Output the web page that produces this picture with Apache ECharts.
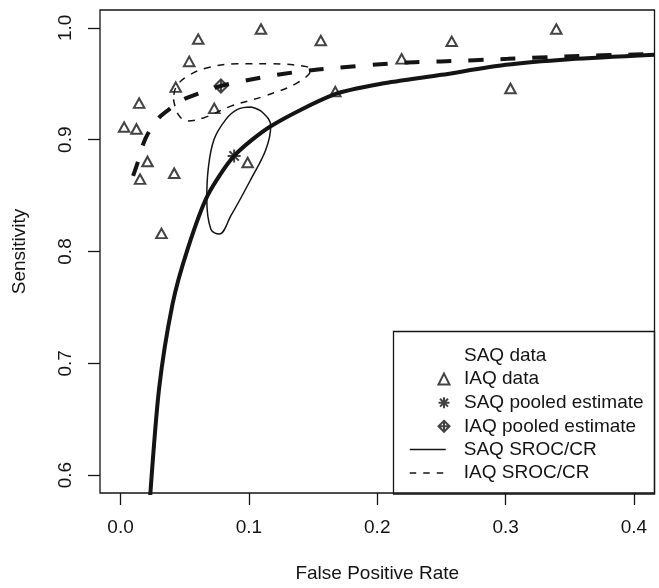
<!DOCTYPE html>
<html>
<head>
<meta charset="utf-8">
<title>SROC curves</title>
<script src="https://cdn.jsdelivr.net/npm/echarts@6/dist/echarts.min.js"></script>
<style>
  html, body { margin: 0; padding: 0; background: #fff; }
  #chart { width: 659px; height: 588px; }
</style>
</head>
<body>
<div id="chart"></div>
<script>
// IAQ study data (false positive rate, sensitivity)
const iaqFpr = [0.0605, 0.1094, 0.156, 0.0535, 0.219, 0.258, 0.3395, 0.043, 0.0145, 0.073,
  0.1673, 0.3038, 0.0028, 0.0124, 0.021, 0.0152, 0.0418, 0.099, 0.0319]
const iaqSens = [0.990, 0.999, 0.9887, 0.970, 0.9723, 0.988, 0.999, 0.947, 0.9327, 0.928,
  0.943, 0.9458, 0.9113, 0.9096, 0.8805, 0.8647, 0.870, 0.8796, 0.8162]

// pooled estimates
const saqPooled = [0.0885, 0.8855]
const iaqPooled = [0.0782, 0.948]

// SROC curves
const saqSrocFpr = [0.0227, 0.030, 0.0405, 0.0522, 0.0678, 0.0885, 0.117, 0.1665, 0.203, 0.25, 0.3, 0.35, 0.416]
const saqSrocSens = [0.575, 0.677, 0.753, 0.802, 0.85, 0.8855, 0.912, 0.9405, 0.950, 0.958, 0.967, 0.972, 0.976]
const iaqSrocFpr = [0.0098, 0.0132, 0.0171, 0.0215, 0.030, 0.0386, 0.049, 0.060, 0.078, 0.1016,
  0.1275, 0.1536, 0.2186, 0.2497, 0.3018, 0.351, 0.4006, 0.416]
const iaqSrocSens = [0.8676, 0.879, 0.8944, 0.9057, 0.9197, 0.9277, 0.936, 0.941, 0.948, 0.9539,
  0.959, 0.9628, 0.9688, 0.970, 0.9723, 0.9747, 0.9762, 0.9766]

// confidence regions
const saqCrFpr = [0.1016, 0.1105, 0.117, 0.1133, 0.1016, 0.086, 0.0768, 0.0704, 0.0672, 0.0683, 0.0729, 0.0821, 0.0912, 0.1016]
const saqCrSens = [0.9292, 0.9245, 0.9122, 0.8914, 0.8647, 0.832, 0.8156, 0.820, 0.8468, 0.8736, 0.9003, 0.9182, 0.9271, 0.9292]
const iaqCrFpr = [0.0413, 0.0449, 0.0522, 0.0651, 0.086, 0.112, 0.138, 0.1484, 0.1431, 0.117, 0.091, 0.0678, 0.0522, 0.043, 0.0413]
const iaqCrSens = [0.936, 0.9227, 0.9167, 0.9197, 0.930, 0.939, 0.951, 0.9628, 0.9657, 0.9679, 0.9679, 0.9643, 0.9568, 0.9465, 0.936]

const xTicks = [0, 0.1, 0.2, 0.3, 0.4]
const yTicks = [0.6, 0.7, 0.8, 0.9, 1.0]

const pairs = (xs, ys) => xs.map((x, i) => [x, ys[i]])

const ink = '#141414'
const font = 'Liberation Sans, Arial, Helvetica, sans-serif'
const asterisk = 'path://M0,-1L0,1M-1,0L1,0M-0.72,-0.72L0.72,0.72M-0.72,0.72L0.72,-0.72'
const diamondPlus = 'path://M0,-1L1,0L0,1L-1,0ZM0,-1L0,1M-1,0L1,0'
const noDot = { color: 'rgba(0,0,0,0)', borderWidth: 0 }
const openMark = { color: 'rgba(0,0,0,0)', borderColor: ink, borderWidth: 2 }

const chart = echarts.init(document.getElementById('chart'))
chart.setOption({
  animation: false,
  textStyle: { fontFamily: font, color: ink },
  grid: {
    left: 100, top: 10, width: 554.5, height: 484,
    show: true, borderColor: ink, borderWidth: 1.3, backgroundColor: 'transparent'
  },
  xAxis: {
    type: 'value', min: -0.016, max: 0.416,
    name: 'False Positive Rate', nameLocation: 'middle', nameGap: 71,
    nameTextStyle: { fontSize: 19, color: ink, fontFamily: font },
    axisLine: { show: false, onZero: false },
    axisTick: { show: true, customValues: xTicks, length: 12, lineStyle: { color: ink, width: 1.3 } },
    axisLabel: { customValues: xTicks, formatter: v => v.toFixed(1), fontSize: 19, margin: 25, color: ink },
    splitLine: { show: false }
  },
  yAxis: {
    type: 'value', min: 0.584, max: 1.016,
    name: 'Sensitivity', nameLocation: 'middle', nameGap: 71,
    nameTextStyle: { fontSize: 19, color: ink, fontFamily: font },
    axisLine: { show: false, onZero: false },
    axisTick: { show: true, customValues: yTicks, length: 12, lineStyle: { color: ink, width: 1.3 } },
    axisLabel: { customValues: yTicks, formatter: v => v.toFixed(1), rotate: 90, fontSize: 19, margin: 25, color: ink },
    splitLine: { show: false }
  },
  legend: [
    {
      data: ['SAQ data', 'IAQ data', 'SAQ pooled estimate', 'IAQ pooled estimate'],
      orient: 'vertical', left: 437.5, top: 346, padding: 0,
      itemWidth: 11, itemHeight: 11, itemGap: 4.6, selectedMode: false,
      textStyle: { fontSize: 19, color: ink, fontFamily: font, padding: [0, 0, 0, 9.5] }
    },
    {
      data: [
        { name: 'SAQ SROC/CR', lineStyle: { width: 1.5, type: 'solid' }, itemStyle: noDot },
        { name: 'IAQ SROC/CR', lineStyle: { width: 1.5, type: [6.5, 7] }, itemStyle: noDot }
      ],
      orient: 'vertical', left: 409, top: 440, padding: 0,
      itemWidth: 36, itemHeight: 11, itemGap: 4.6, selectedMode: false,
      textStyle: { fontSize: 19, color: ink, fontFamily: font, padding: [0, 0, 0, 13] }
    }
  ],
  graphic: [{
    type: 'rect', z: 0,
    shape: { x: 393.5, y: 331.5, width: 261, height: 162.5 },
    style: { fill: 'none', stroke: ink, lineWidth: 1.3 }
  }],
  series: [
    {
      name: 'SAQ SROC/CR', type: 'line', data: pairs(saqSrocFpr, saqSrocSens),
      symbol: 'none', smooth: 0.25, lineStyle: { color: ink, width: 4 }, itemStyle: { color: ink }
    },
    {
      name: 'IAQ SROC/CR', type: 'line', data: pairs(iaqSrocFpr, iaqSrocSens),
      symbol: 'none', smooth: 0.25, lineStyle: { color: ink, width: 4, type: [15, 17], cap: 'butt' }, itemStyle: { color: ink }
    },
    {
      name: 'SAQ region', type: 'line', data: pairs(saqCrFpr, saqCrSens),
      symbol: 'none', smooth: 0.4, lineStyle: { color: ink, width: 1.5 }
    },
    {
      name: 'IAQ region', type: 'line', data: pairs(iaqCrFpr, iaqCrSens),
      symbol: 'none', smooth: 0.4, lineStyle: { color: ink, width: 1.5, type: [7, 7] }
    },
    {
      name: 'SAQ data', type: 'scatter', data: [],
      symbol: 'circle', itemStyle: noDot
    },
    {
      name: 'IAQ data', type: 'scatter', data: pairs(iaqFpr, iaqSens),
      symbol: 'triangle', symbolSize: [10.5, 9.5], itemStyle: openMark
    },
    {
      name: 'SAQ pooled estimate', type: 'scatter', data: [saqPooled],
      symbol: asterisk, symbolSize: 13, itemStyle: openMark
    },
    {
      name: 'IAQ pooled estimate', type: 'scatter', data: [iaqPooled],
      symbol: diamondPlus, symbolSize: 13, itemStyle: openMark
    }
  ]
})
</script>
</body>
</html>
